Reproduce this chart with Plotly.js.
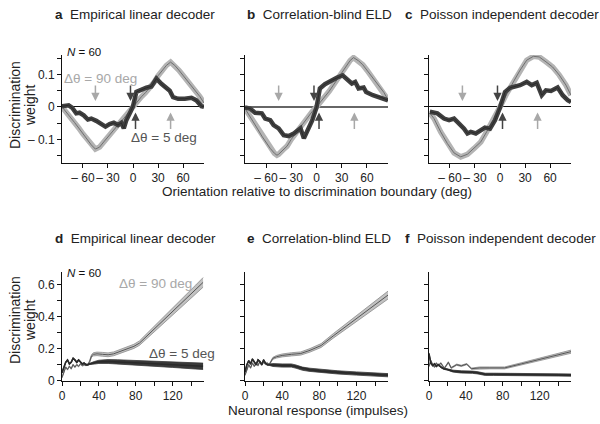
<!DOCTYPE html>
<html>
<head>
<meta charset="utf-8">
<script src="https://cdn.plot.ly/plotly-3.0.1.min.js"></script>
<style>html,body{margin:0;padding:0;background:#fff;}#chart{width:600px;height:424px;}</style>
</head>
<body>
<div id="chart"></div>
<script>
// ---------- data: orientation panels (a, b, c) ----------
const thetaA90 = [-85,-80,-75,-70,-65,-60,-55,-50,-45,-40,-35,-30,-25,-20,-15,-10,-5,0,5,10,15,20,25,30,35,40,45,50,55,60,65,70,75,80,85];
const wA90 = [0.0,-0.015,-0.03,-0.048,-0.065,-0.083,-0.1,-0.117,-0.13,-0.124,-0.108,-0.092,-0.075,-0.062,-0.048,-0.032,-0.016,0,0.017,0.031,0.044,0.058,0.075,0.096,0.113,0.128,0.138,0.128,0.113,0.097,0.082,0.066,0.05,0.032,0.012];
const thetaA5 = [-85,-77,-73,-68,-64,-59,-54,-50,-44,-38,-33,-28,-23,-18,-14,-11,-8,-3,0,4,10,16,22,28,34,40,44,48,54,62,70,76,82,85];
const wA5 = [0.002,0.005,-0.002,-0.02,-0.018,-0.026,-0.039,-0.036,-0.043,-0.053,-0.061,-0.053,-0.049,-0.056,-0.049,-0.066,-0.041,-0.015,0.002,0.046,0.053,0.059,0.063,0.087,0.071,0.056,0.05,0.03,0.025,0.025,0.028,0.02,0.002,0.0];

const thetaB90 = [-85,-80,-75,-70,-65,-60,-55,-50,-47,-45,-40,-35,-30,-25,-20,-15,-10,-5,0,5,10,15,20,25,30,35,40,44,50,55,60,65,70,75,80,85];
const wB90 = [-0.005,-0.025,-0.048,-0.068,-0.09,-0.11,-0.128,-0.143,-0.149,-0.146,-0.133,-0.121,-0.1,-0.082,-0.064,-0.047,-0.03,-0.014,0,0.015,0.031,0.048,0.067,0.087,0.106,0.127,0.143,0.152,0.142,0.13,0.113,0.095,0.078,0.063,0.045,0.022];
const thetaB5 = [-85,-79,-73,-65,-61,-55,-51,-45,-39,-33,-27,-19,-15,-11,-5,0,4,10,18,24,31,36,42,46,50,56,59,67,77,85];
const wB5 = [-0.002,-0.005,-0.018,-0.02,-0.036,-0.041,-0.056,-0.066,-0.087,-0.09,-0.082,-0.066,-0.097,-0.077,-0.041,-0.002,0.057,0.07,0.082,0.09,0.097,0.087,0.072,0.077,0.057,0.06,0.046,0.036,0.029,0.02];

const thetaC90 = [-84,-79,-71,-63,-55,-47,-39,-31,-23,-16,-8,0,8,16,24,32,40,47,55,63,71,79,85];
const wC90 = [-0.019,-0.036,-0.077,-0.113,-0.142,-0.154,-0.146,-0.128,-0.108,-0.077,-0.041,0,0.041,0.077,0.113,0.144,0.156,0.154,0.139,0.123,0.098,0.067,0.036];
const thetaC5 = [-84,-75,-67,-61,-55,-49,-43,-39,-35,-29,-23,-18,-12,-6,0,6,12,18,24,32,38,44,50,55,61,69,75,81,85];
const wC5 = [-0.015,-0.02,-0.036,-0.041,-0.036,-0.051,-0.067,-0.082,-0.077,-0.082,-0.072,-0.064,-0.067,-0.041,-0.002,0.046,0.059,0.062,0.067,0.077,0.067,0.074,0.036,0.051,0.049,0.06,0.036,0.021,0.015];

// ---------- data: response panels (d, e, f) ----------
const respD90 = [0,2,4,6,8,10,12,14,16,18,20,22,24,26,28,30,32,34,38,44,50,56,62,70,78,84,95,105,115,125,135,145,153];
const wD90 = [0.02,0.06,0.085,0.07,0.09,0.075,0.1,0.085,0.1,0.09,0.105,0.095,0.1,0.098,0.1,0.12,0.155,0.165,0.168,0.165,0.162,0.168,0.18,0.195,0.215,0.235,0.295,0.35,0.405,0.46,0.515,0.57,0.615];
const errD90 = [0.004,0.004,0.004,0.004,0.004,0.004,0.004,0.004,0.004,0.004,0.004,0.004,0.004,0.004,0.004,0.006,0.008,0.01,0.011,0.012,0.012,0.012,0.012,0.013,0.013,0.014,0.016,0.018,0.02,0.022,0.025,0.028,0.03];
const respD5 = [0,2,4,6,8,10,12,14,16,18,20,22,24,26,28,30,35,40,50,60,80,100,120,140,153];
const wD5 = [0.05,0.09,0.115,0.13,0.105,0.115,0.14,0.13,0.115,0.13,0.12,0.105,0.11,0.1,0.1,0.105,0.112,0.118,0.12,0.118,0.112,0.106,0.1,0.094,0.09];
const errD5 = [0.004,0.004,0.004,0.004,0.004,0.004,0.004,0.004,0.004,0.004,0.004,0.004,0.004,0.004,0.004,0.004,0.008,0.01,0.012,0.013,0.014,0.015,0.017,0.019,0.02];

const respE90 = [0,2,4,6,8,10,12,14,16,18,20,22,24,26,28,30,34,40,50,60,70,82,95,110,125,140,155];
const wE90 = [0.035,0.07,0.1,0.08,0.11,0.09,0.11,0.095,0.12,0.1,0.115,0.105,0.11,0.1,0.12,0.14,0.15,0.158,0.165,0.17,0.19,0.22,0.28,0.345,0.41,0.475,0.54];
const errE90 = [0.004,0.004,0.004,0.004,0.004,0.004,0.004,0.004,0.004,0.004,0.004,0.004,0.004,0.004,0.004,0.006,0.008,0.009,0.01,0.01,0.011,0.012,0.014,0.016,0.019,0.022,0.025];
const respE5 = [0,2,4,6,8,10,12,14,16,18,20,22,24,26,30,40,50,55,62,70,82,100,120,140,155];
const wE5 = [0.055,0.1,0.125,0.105,0.135,0.115,0.1,0.13,0.12,0.1,0.13,0.11,0.1,0.1,0.098,0.095,0.095,0.088,0.075,0.068,0.06,0.052,0.045,0.039,0.034];
const errE5 = [0.004,0.004,0.004,0.004,0.004,0.004,0.004,0.004,0.004,0.004,0.004,0.004,0.004,0.004,0.009,0.01,0.01,0.01,0.01,0.01,0.01,0.01,0.01,0.01,0.01];

const respF90 = [0,2,4,6,8,10,13,15,17,19,21,24,27,30,35,41,46,55,66,82,100,120,140,155];
const wF90 = [0.09,0.125,0.1,0.085,0.11,0.095,0.11,0.09,0.08,0.1,0.115,0.08,0.09,0.1,0.093,0.104,0.075,0.08,0.08,0.08,0.105,0.134,0.162,0.183];
const errF90 = [0.004,0.004,0.004,0.004,0.004,0.004,0.004,0.004,0.004,0.004,0.004,0.004,0.004,0.004,0.004,0.004,0.004,0.006,0.006,0.006,0.007,0.008,0.009,0.01];
const respF5 = [0,1,2,4,6,8,10,13,16,20,26,35,41,47,52,57,61,70,80,100,120,140,155];
const wF5 = [0.17,0.13,0.11,0.095,0.105,0.09,0.1,0.085,0.075,0.07,0.06,0.055,0.055,0.053,0.05,0.045,0.04,0.04,0.04,0.038,0.037,0.036,0.035];
const errF5 = [0.004,0.004,0.004,0.004,0.004,0.004,0.004,0.004,0.004,0.004,0.006,0.007,0.007,0.007,0.007,0.007,0.007,0.007,0.007,0.007,0.007,0.007,0.007];

// ---------- tick labels ----------
const thetaTicks = [-60,-30,0,30,60];
const thetaTickText = ['\u2013 60','\u2013 30','0','30','60'];
const wTopTicks = [-0.15,-0.1,-0.05,0,0.05,0.1,0.15];
const wTopTickText = ['','\u2013 0.1','','0','','0.1',''];
const respTicks = [0,20,40,60,80,100,120,140];
const respTickText = ['0','','40','','80','','120',''];
const wBotTicks = [0,0.1,0.2,0.3,0.4,0.5,0.6];
const wBotTickText = ['0','','0.2','','0.4','','0.6'];

const panelTitles = [
  ['a','Empirical linear decoder'],
  ['b','Correlation-blind ELD'],
  ['c','Poisson independent decoder'],
  ['d','Empirical linear decoder'],
  ['e','Correlation-blind ELD'],
  ['f','Poisson independent decoder']
];

// ---------- build ----------
const FONT = 'Liberation Sans, Arial, Helvetica, sans-serif';
const W = 600, H = 424;
const px = v => v / W;
const py = v => 1 - v / H;

const LIGHT_BAND = '#b4b4b4', LIGHT_LINE = '#707070';
const DARK_BAND = '#404040', DARK_LINE = '#2a2a2a';

const data = [];
function addLine(xa, ya, x, y, color, width) {
  data.push({x: x, y: y, xaxis: xa, yaxis: ya, mode: 'lines', hoverinfo: 'skip',
             showlegend: false, line: {color: color, width: width}});
}
function addBand(xa, ya, x, y, e, fill, edge, center, cw) {
  const lo = y.map((v, i) => v - e[i]);
  const hi = y.map((v, i) => v + e[i]);
  data.push({x: x, y: lo, xaxis: xa, yaxis: ya, mode: 'lines', hoverinfo: 'skip', showlegend: false,
             line: {color: edge, width: 0.8}});
  data.push({x: x, y: hi, xaxis: xa, yaxis: ya, mode: 'lines', hoverinfo: 'skip', showlegend: false,
             fill: 'tonexty', fillcolor: fill, line: {color: edge, width: 0.8}});
  addLine(xa, ya, x, y, center, cw);
}

// top row
[['x','y',thetaA90,wA90,thetaA5,wA5],
 ['x2','y2',thetaB90,wB90,thetaB5,wB5],
 ['x3','y3',thetaC90,wC90,thetaC5,wC5]].forEach(p => {
  addLine(p[0], p[1], p[2], p[3], LIGHT_BAND, 5.5);
  addLine(p[0], p[1], p[2], p[3], LIGHT_LINE, 1);
  addLine(p[0], p[1], p[4], p[5], DARK_BAND, 4.5);
  addLine(p[0], p[1], p[4], p[5], DARK_LINE, 1);
});
// bottom row
[['x4','y4',respD90,wD90,errD90,respD5,wD5,errD5],
 ['x5','y5',respE90,wE90,errE90,respE5,wE5,errE5],
 ['x6','y6',respF90,wF90,errF90,respF5,wF5,errF5]].forEach(p => {
  addBand(p[0], p[1], p[2], p[3], p[4], '#c2c2c2', '#8c8c8c', '#555555', 1);
  addBand(p[0], p[1], p[5], p[6], p[7], '#3a3a3a', '#3a3a3a', '#2a2a2a', 1.6);
});

const colX = [[62, 204], [245, 388], [429, 571]];
const topY = [55, 163], botY = [272, 380.7];
const TICKFONT = {size: 12, color: '#222', family: FONT};

function xAxis(i, top) {
  return {domain: [px(colX[i][0]), px(colX[i][1])],
          range: top ? [-85, 85] : [0, 154],
          tickvals: top ? thetaTicks : respTicks,
          ticktext: top ? thetaTickText : respTickText,
          tickmode: 'array', tickangle: 0, ticks: 'outside', ticklen: 4, tickwidth: 1, tickcolor: '#111',
          showline: true, linecolor: '#111', linewidth: 1, showgrid: false, zeroline: false,
          tickfont: TICKFONT, fixedrange: true};
}
function yAxis(i, top, anchor) {
  return {domain: top ? [py(topY[1]), py(topY[0])] : [py(botY[1]), py(botY[0])],
          range: top ? [-0.173, 0.16] : [0, 0.68],
          tickvals: top ? wTopTicks : wBotTicks,
          ticktext: top ? wTopTickText : wBotTickText,
          tickmode: 'array', tickangle: 0, ticks: 'outside', ticklen: 4, tickwidth: 1, tickcolor: '#111',
          showline: true, linecolor: '#111', linewidth: 1, showgrid: false,
          zeroline: top, zerolinecolor: (top && i === 1) ? '#666666' : '#111111',
          zerolinewidth: (top && i === 1) ? 1.6 : 1.2,
          showticklabels: i === 0,
          anchor: anchor,
          tickfont: TICKFONT, fixedrange: true};
}

const layout = {
  width: W, height: H,
  margin: {l: 0, r: 0, t: 0, b: 0},
  paper_bgcolor: '#fff', plot_bgcolor: 'rgba(0,0,0,0)',
  font: {family: FONT, color: '#222'},
  showlegend: false,
  xaxis: Object.assign(xAxis(0, true), {anchor: 'y'}),
  xaxis2: Object.assign(xAxis(1, true), {anchor: 'y2'}),
  xaxis3: Object.assign(xAxis(2, true), {anchor: 'y3'}),
  xaxis4: Object.assign(xAxis(0, false), {anchor: 'y4'}),
  xaxis5: Object.assign(xAxis(1, false), {anchor: 'y5'}),
  xaxis6: Object.assign(xAxis(2, false), {anchor: 'y6'}),
  yaxis: yAxis(0, true, 'x'),
  yaxis2: yAxis(1, true, 'x2'),
  yaxis3: yAxis(2, true, 'x3'),
  yaxis4: yAxis(0, false, 'x4'),
  yaxis5: yAxis(1, false, 'x5'),
  yaxis6: yAxis(2, false, 'x6'),
  annotations: []
};

const A = layout.annotations;
function txt(text, x, y, opts) {
  A.push(Object.assign({text: text, xref: 'paper', yref: 'paper', x: px(x), y: py(y),
    xanchor: 'left', yanchor: 'middle', showarrow: false,
    font: {size: 13.5, color: '#222', family: FONT}}, opts || {}));
}
// panel titles
const titleX = [53, 245, 403];
panelTitles.forEach((t, i) => {
  txt('<b>' + t[0] + '</b>  ' + t[1], titleX[i % 3], i < 3 ? 15 : 239);
});
// axis titles
txt('Orientation relative to discrimination boundary (deg)', 317, 191, {xanchor: 'center'});
txt('Neuronal response (impulses)', 318, 410, {xanchor: 'center'});
[105, 320].forEach(cy => {
  txt('Discrimination', 15, cy, {xanchor: 'center', textangle: -90, font: {size: 14, color: '#222', family: FONT}});
  txt('weight', 30, cy, {xanchor: 'center', textangle: -90, font: {size: 14, color: '#222', family: FONT}});
});
// N = 60
txt('<i>N</i> = 60', 65, 52, {font: {size: 11.5, color: '#111', family: FONT}});
txt('<i>N</i> = 60', 65, 273, {font: {size: 11.5, color: '#111', family: FONT}});
// delta theta labels
txt('\u0394\u03b8 = 90 deg', 62, 78, {font: {size: 13.5, color: '#a8a8a8', family: FONT}});
txt('\u0394\u03b8 = 5 deg', 129, 137, {font: {size: 13.5, color: '#555', family: FONT}});
txt('\u0394\u03b8 = 90 deg', 117, 283, {font: {size: 13.5, color: '#a8a8a8', family: FONT}});
txt('\u0394\u03b8 = 5 deg', 147, 353, {font: {size: 13.5, color: '#555', family: FONT}});

// arrows
const arrowSpec = [
  // [deg, pointing down?, color]
  [-45, true, '#a8a8a8'], [-3, true, '#444'], [3, false, '#444'], [45, false, '#a8a8a8']
];
['', '2', '3'].forEach(s => {
  arrowSpec.forEach(a => {
    A.push({xref: 'x' + s, yref: 'y' + s, x: a[0], y: a[1] ? 0.018 : -0.017,
      ax: 0, ay: a[1] ? -17 : 18, text: '', showarrow: true,
      arrowhead: 2, arrowsize: 1.1, arrowwidth: 1.5, arrowcolor: a[2]});
  });
});

Plotly.newPlot('chart', data, layout, {staticPlot: true, displayModeBar: false});
</script>
</body>
</html>
